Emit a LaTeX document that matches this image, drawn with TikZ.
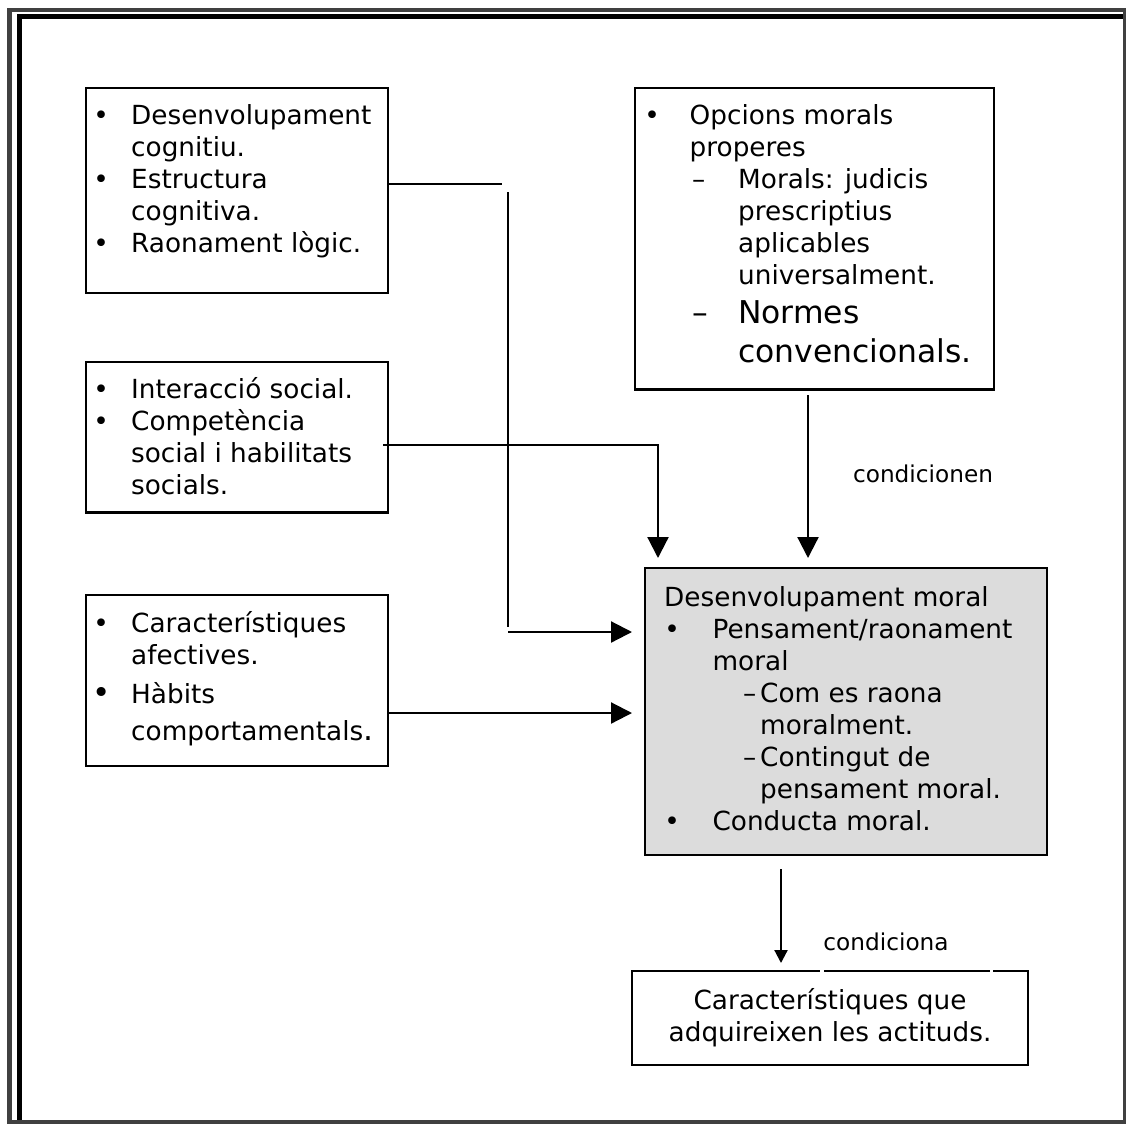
\documentclass[tikz,border=0pt]{standalone}
\usepackage{fontspec}
\setmainfont{DejaVu Sans}
\usetikzlibrary{arrows.meta}
\definecolor{framegray}{HTML}{404040}
\definecolor{boxgray}{RGB}{220,220,220}
% bullet mark centred in a fixed slot, and a fixed-width column
\newcommand{\bulletmark}{\makebox[16pt][c]{•}}
\newcommand{\bigbulletmark}{\makebox[16pt][c]{\fontsize{31}{32}\selectfont •}}
\newcommand{\col}[2]{\makebox[#1][l]{#2}}
\newcommand{\largertext}{\fontsize{31.4}{32}\selectfont}

\begin{document}
\begin{tikzpicture}[x=1pt,y=-1pt,
  panel/.style={draw, line width=2.5pt, inner sep=0pt},
  txt/.style={anchor=base west, inner sep=0pt, font=\fontsize{26.3}{32}\selectfont},
  conn/.style={line width=2.2pt},
  bigarrow/.style={conn, -{Triangle[length=21pt,width=21pt]}},
  smallarrow/.style={conn, -{Triangle[length=13pt,width=13pt]}},
  lbl/.style={anchor=base, inner sep=0pt, font=\fontsize{23.2}{28}\selectfont}]

\useasboundingbox (0,0) rectangle (1126,1124);

% page border: grey outer lines, black inner lines on top and left
\fill[framegray] (7,8) rectangle (12,1124);
\fill[framegray] (7,8) rectangle (1126,12);
\fill[framegray] (1123,8) rectangle (1126,1124);
\fill[framegray] (7,1120) rectangle (1126,1124);
\fill[black] (17,14) rectangle (22,1120);
\fill[black] (17,14) rectangle (1123,19);

% boxes
\node[panel, minimum width=302pt, minimum height=205pt] (b1) at (237,190.5) {};
\node[panel, minimum width=359pt, minimum height=301.5pt] (b2) at (814.5,238.75) {};
\node[panel, minimum width=302pt, minimum height=150.5pt] (b3) at (237,437.25) {};
\node[panel, minimum width=302pt, minimum height=171pt] (b4) at (237,680.5) {};
\node[panel, fill=boxgray, minimum width=402pt, minimum height=287pt] (dm) at (846,711.5) {};
\node[panel, minimum width=396pt, minimum height=94pt, align=center,
      font=\fontsize{26.3}{32}\selectfont] (bot) at (830,1018)
      {Característiques que\\adquireixen les actituds.};
\fill[white] (820,968) rectangle (824,974);
\fill[white] (990,968) rectangle (993,974);

% box texts
\node[txt] (t1) at (93,124) {\vtop{
  \hbox{\col{38pt}{\bulletmark}Desenvolupament}
  \hbox{\col{38pt}{}cognitiu.}
  \hbox{\col{38pt}{\bulletmark}Estructura}
  \hbox{\col{38pt}{}cognitiva.}
  \hbox{\col{38pt}{\bulletmark}Raonament lògic.}}};

\node[txt] (t2) at (644,124) {\vtop{
  \hbox{\col{45.5pt}{\bulletmark}Opcions morals}
  \hbox{\col{45.5pt}{}properes}
  \hbox{\col{48pt}{}\col{46pt}{–}Morals: judicis}
  \hbox{\col{94pt}{}prescriptius}
  \hbox{\col{94pt}{}aplicables}
  \hbox{\col{94pt}{}universalment.}
  \vskip7pt
  \hbox{\largertext\col{48pt}{}\col{46pt}{–}Normes}
  \vskip7pt
  \hbox{\largertext\col{94pt}{}convencionals.}}};

\node[txt] (t3) at (93,398) {\vtop{
  \hbox{\col{38pt}{\bulletmark}Interacció social.}
  \hbox{\col{38pt}{\bulletmark}Competència}
  \hbox{\col{38pt}{}social i habilitats}
  \hbox{\col{38pt}{}socials.}}};

\node[txt] (t4) at (93,632) {\vtop{
  \hbox{\col{38pt}{\bulletmark}Característiques}
  \hbox{\col{38pt}{}afectives.}
  \vskip7pt
  \hbox{\col{38pt}{\bigbulletmark}Hàbits}
  \vskip5pt
  \hbox{\col{38pt}{}comportamentals{\largertext .}}}};

\node[txt] (tdm) at (664,606.7) {\vtop{
  \hbox{Desenvolupament moral}
  \hbox{\col{48.4pt}{\bulletmark}Pensament/raonament}
  \hbox{\col{48.4pt}{}moral}
  \hbox{\col{79pt}{}\col{17pt}{–}Com es raona}
  \hbox{\col{96pt}{}moralment.}
  \hbox{\col{79pt}{}\col{17pt}{–}Contingut de}
  \hbox{\col{96pt}{}pensament moral.}
  \hbox{\col{48.4pt}{\bulletmark}Conducta moral.}}};

% connector waypoints
\coordinate (k1) at (502,184);
\coordinate (k1s) at (b1.east |- k1);
\coordinate (k2) at (508,192);
\coordinate (k3) at (508,627);
\coordinate (k4) at (508,632);
\coordinate (k5) at (632,632);
\coordinate (s1) at (383,445);
\coordinate (s2) at (658,558);
\coordinate (n1) at (808,395);
\coordinate (n2) at (808,558);
\coordinate (a2) at (632,713);
\coordinate (a1) at (b4.east |- a2);
\coordinate (d1) at (781,869);
\coordinate (d2) at (781,963);

% connectors
\draw[conn] (k1s) -- (k1);
\draw[conn] (k2) -- (k3);
\draw[bigarrow] (k4) -- (k5);
\draw[bigarrow] (s1) -| (s2);
\draw[bigarrow] (n1) -- (n2);
\draw[bigarrow] (a1) -- (a2);
\draw[smallarrow] (d1) -- (d2);

% connector labels
\node[lbl] (lc1) at (923,482.7) {condicionen};
\node[lbl] (lc2) at (886,950) {condiciona};

\end{tikzpicture}
\end{document}
